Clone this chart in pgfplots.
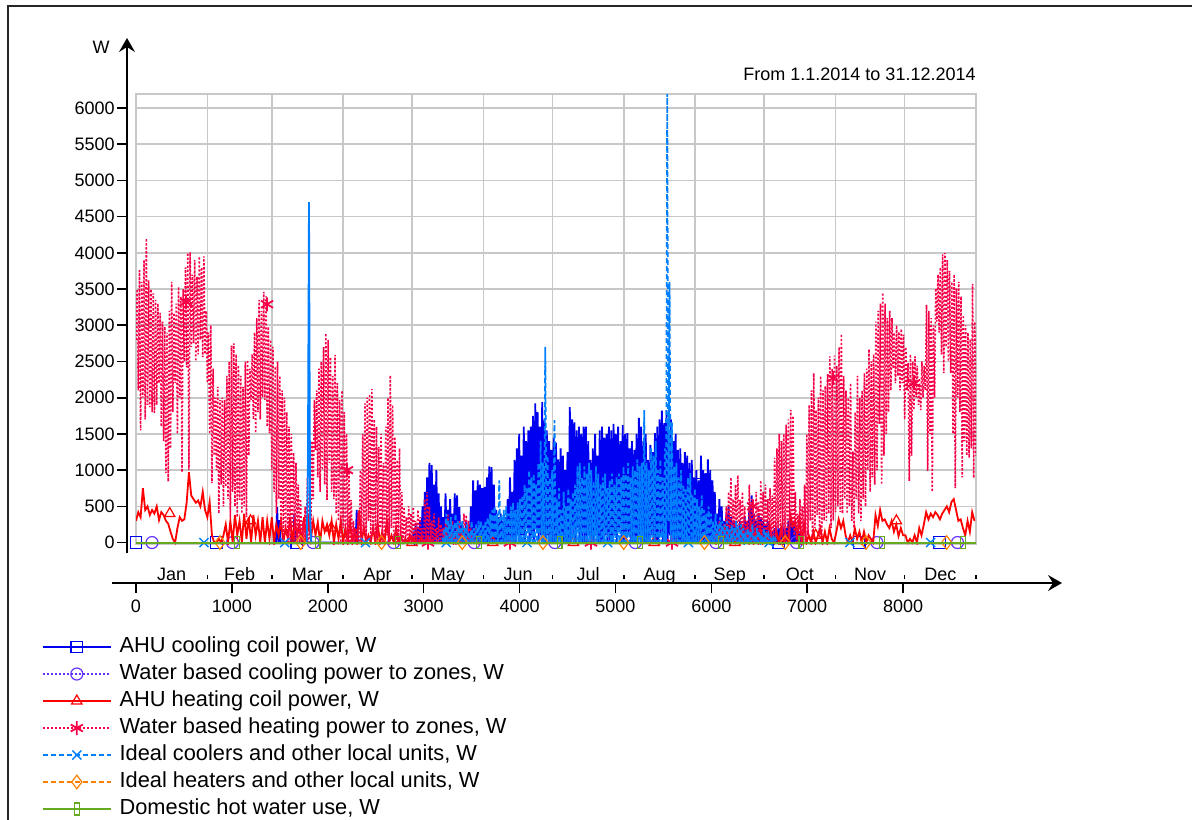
\documentclass[border=0pt]{standalone}
\usepackage{fontspec}
\setmainfont{Liberation Sans}
\usepackage{pgfplots}
\usepackage{pgfplotstable}
\pgfplotsset{compat=1.18}
\usetikzlibrary{arrows.meta}

\definecolor{cAC}{RGB}{0,0,240}
\definecolor{cWC}{RGB}{102,51,255}
\definecolor{cAH}{RGB}{255,0,0}
\definecolor{cWH}{RGB}{245,0,70}
\definecolor{cIC}{RGB}{0,128,255}
\definecolor{cIH}{RGB}{255,128,0}
\definecolor{cDHW}{RGB}{102,170,34}
\definecolor{gridc}{RGB}{200,200,200}

% Water based heating, Jan-May, 12 h steps from hour 0
\pgfplotstableread[row sep=\\,header=false]{
2800\\ 3500\\ 2100\\ 3760\\ 1550\\ 3600\\ 2000\\ 3900\\ 1700\\ 4200\\ 1900\\ 3620\\ 1870\\ 3500\\
1800\\ 3440\\ 1790\\ 3350\\ 1900\\ 3300\\ 2200\\ 3170\\ 1600\\ 3050\\ 1400\\ 2980\\ 960\\ 2900\\
840\\ 3200\\ 1300\\ 3600\\ 1800\\ 3170\\ 2200\\ 3300\\ 1500\\ 3530\\ 2000\\ 3400\\ 970\\ 3500\\
2500\\ 3800\\ 2420\\ 4000\\ 1000\\ 4010\\ 2700\\ 3700\\ 2750\\ 3900\\ 2500\\ 3670\\ 2600\\ 3950\\
2800\\ 3800\\ 2560\\ 3950\\ 2600\\ 3200\\ 2200\\ 2900\\ 1500\\ 3000\\ 820\\ 2400\\ 1200\\ 2000\\
1000\\ 2150\\ 400\\ 1970\\ 800\\ 2000\\ 500\\ 1970\\ 770\\ 2300\\ 600\\ 2500\\ 350\\ 2720\\
700\\ 2750\\ 500\\ 2600\\ 350\\ 2450\\ 590\\ 2300\\ 400\\ 2150\\ 500\\ 2500\\ 350\\ 2520\\
1200\\ 2400\\ 1970\\ 2600\\ 1700\\ 2900\\ 1510\\ 3100\\ 1800\\ 3350\\ 1700\\ 3200\\ 2000\\ 3460\\
1970\\ 3400\\ 1600\\ 2980\\ 1510\\ 2800\\ 1000\\ 2700\\ 700\\ 2430\\ 400\\ 2500\\ 600\\ 2300\\
200\\ 2100\\ 0\\ 2000\\ 100\\ 1800\\ 0\\ 1600\\ 0\\ 1500\\ 200\\ 1240\\ 0\\ 1100\\
0\\ 800\\ 0\\ 600\\ 0\\ 300\\ 0\\ 500\\ 0\\ 900\\ 0\\ 700\\ 200\\ 1400\\
600\\ 1970\\ 1280\\ 2100\\ 900\\ 2400\\ 700\\ 2500\\ 1000\\ 2700\\ 800\\ 2890\\ 590\\ 2800\\
1100\\ 2560\\ 700\\ 2300\\ 600\\ 2590\\ 400\\ 2200\\ 300\\ 1970\\ 0\\ 2100\\ 200\\ 1800\\
0\\ 1500\\ 0\\ 1040\\ 0\\ 590\\ 0\\ 300\\ 0\\ 200\\ 0\\ 400\\ 0\\ 1000\\
0\\ 1500\\ 130\\ 1920\\ 0\\ 2000\\ 300\\ 2050\\ 0\\ 2120\\ 100\\ 1700\\ 0\\ 1600\\
0\\ 1320\\ 200\\ 1500\\ 0\\ 1100\\ 0\\ 1600\\ 100\\ 2000\\ 0\\ 2310\\ 200\\ 1900\\
0\\ 1460\\ 0\\ 1140\\ 0\\ 1300\\ 0\\ 700\\ 0\\ 490\\ 0\\ 350\\ 0\\ 500\\
0\\ 400\\ 0\\ 490\\ 0\\ 300\\ 0\\ 450\\ 0\\ 350\\ 0\\ 200\\ 0\\ 600\\
0\\ 700\\ 0\\ 500\\ 0\\ 300\\ 0\\ 400\\ 0\\ 200\\ 0\\ 350\\ 0\\ 250\\
0\\ 200\\ 0\\ 300\\ 0\\ 400\\ 0\\ 150\\ 0\\ 300\\ 0\\ 100\\ 0\\ 250\\
0\\ 300\\ 0\\ 200\\ 0\\ 400\\ 0\\ 380\\ 0\\ 300\\ 0\\ 150\\ 0\\ 100\\
0\\ 200\\ 0\\ 100\\ 0\\ 50\\ 0\\ 0\\
}\pinkA

% Water based heating, Sep-Dec, 12 h steps from hour 6000
\pgfplotstableread[row sep=\\,header=false]{
0\\ 0\\ 0\\ 100\\ 0\\ 200\\ 0\\ 300\\ 0\\ 150\\ 0\\ 250\\ 0\\
500\\ 0\\ 700\\ 0\\ 900\\ 0\\ 600\\ 100\\ 800\\ 0\\ 930\\ 0\\ 590\\ 0\\ 700\\ 0\\ 500\\
0\\ 300\\ 0\\ 800\\ 0\\ 600\\ 0\\ 400\\ 0\\ 700\\ 0\\ 500\\ 0\\
860\\ 0\\ 700\\ 0\\ 800\\ 0\\ 600\\ 0\\ 750\\ 0\\ 650\\ 0\\
1170\\ 0\\ 1300\\ 200\\ 1500\\ 0\\ 1400\\ 100\\ 1500\\ 0\\
1630\\ 100\\ 1700\\ 0\\ 1830\\ 200\\ 1750\\ 100\\
700\\ 0\\ 400\\ 0\\ 600\\ 0\\ 500\\ 0\\ 800\\
0\\ 1500\\ 100\\ 1900\\ 300\\ 2100\\ 0\\ 2340\\ 200\\
1830\\ 380\\ 2000\\ 100\\ 2300\\ 0\\ 2100\\ 300\\
2160\\ 300\\ 2300\\ 400\\ 2570\\ 200\\ 2400\\ 300\\ 2580\\
420\\ 2440\\ 500\\ 2700\\ 420\\ 2880\\
400\\ 2300\\ 600\\ 2100\\ 400\\ 2000\\ 500\\ 2200\\ 300\\
1260\\ 200\\ 1800\\ 600\\ 2300\\ 400\\ 2000\\ 300\\ 2100\\ 600\\ 2340\\
500\\ 2400\\ 1000\\ 2670\\ 700\\ 2500\\ 900\\ 2600\\ 800\\
3050\\ 1000\\ 3200\\ 1640\\ 3300\\ 800\\ 3450\\ 1200\\ 3300\\ 1500\\ 3100\\ 1800\\ 3200\\
2100\\ 3100\\ 2400\\ 2900\\ 2200\\ 3000\\ 2300\\ 2910\\ 2100\\ 2950\\ 2200\\
2870\\ 1700\\ 2700\\ 2100\\ 2480\\ 850\\ 2600\\ 1200\\ 2500\\
1830\\ 2570\\ 2000\\ 2440\\ 1900\\ 2200\\ 1830\\ 2500\\ 2000\\ 2440\\
2100\\ 3280\\ 990\\ 3200\\ 1500\\ 3100\\ 700\\ 3000\\ 2000\\
3510\\ 3050\\ 3700\\ 2900\\ 3800\\ 2600\\ 3980\\ 2340\\ 4000\\ 2700\\ 3900\\ 2500\\
3750\\ 2340\\ 3600\\ 1500\\ 3700\\ 750\\ 3510\\ 2000\\ 3600\\ 1800\\ 3400\\ 900\\
3140\\ 1400\\ 3000\\ 1200\\ 2900\\ 1170\\ 2810\\ 1300\\ 3570\\ 890\\ 3050\\ 1200\\
}\pinkB

% AHU heating, Jan-May, 24 h steps from hour 0
\pgfplotstableread[row sep=\\,header=false]{
300\\ 420\\ 350\\ 750\\ 450\\ 500\\ 380\\
450\\ 400\\ 500\\ 310\\ 420\\ 380\\ 300\\
260\\ 150\\ 50\\ 0\\ 200\\ 350\\ 300\\
320\\ 550\\ 970\\ 650\\ 600\\ 550\\ 580\\
500\\ 700\\ 450\\ 350\\ 560\\ 100\\ 0\\
0\\ 50\\ 0\\ 100\\ 250\\ 0\\ 300\\
0\\ 380\\ 100\\ 300\\ 0\\ 400\\ 50\\
350\\ 0\\ 380\\ 100\\ 300\\ 0\\ 350\\
0\\ 300\\ 50\\ 350\\ 0\\ 250\\ 100\\
300\\ 0\\ 200\\ 50\\ 350\\ 0\\ 300\\
100\\ 250\\ 0\\ 350\\ 0\\ 300\\ 50\\
300\\ 100\\ 280\\ 0\\ 300\\ 150\\ 250\\
100\\ 300\\ 0\\ 250\\ 50\\ 300\\ 0\\
200\\ 0\\ 300\\ 0\\ 150\\ 0\\ 450\\
0\\ 210\\ 0\\ 100\\ 0\\ 200\\ 0\\
280\\ 0\\ 150\\ 0\\ 300\\ 0\\ 100\\
0\\ 200\\ 0\\ 100\\ 0\\ 50\\ 0\\
100\\ 0\\ 50\\ 0\\ 0\\ 80\\ 0\\
0\\
}\redA

% AHU heating, Sep-Dec, 24 h steps from hour 6200
\pgfplotstableread[row sep=\\,header=false]{
0\\ 50\\ 0\\ 150\\ 0\\ 200\\ 0\\ 100\\ 0\\ 240\\ 0\\ 150\\ 0\\
200\\ 0\\ 100\\ 0\\ 240\\ 50\\ 0\\ 150\\ 0\\ 200\\ 0\\ 100\\ 0\\
380\\ 230\\ 300\\ 100\\ 350\\ 0\\ 250\\ 0\\ 100\\
0\\ 150\\ 0\\ 100\\ 200\\ 0\\ 150\\ 0\\ 200\\ 50\\ 0\\ 150\\
320\\ 200\\ 300\\ 100\\ 0\\
100\\ 0\\ 200\\ 50\\ 150\\ 0\\
150\\ 0\\ 100\\ 50\\ 0\\
380\\ 230\\ 450\\ 300\\
320\\ 250\\ 200\\ 300\\ 150\\ 250\\ 90\\ 200\\ 100\\
100\\ 0\\ 50\\ 0\\ 100\\ 0\\
200\\ 100\\ 250\\
420\\ 320\\ 400\\ 350\\ 420\\ 380\\ 320\\ 400\\ 450\\
500\\ 420\\ 560\\ 600\\ 450\\ 300\\
320\\ 200\\ 100\\ 300\\ 150\\ 420\\
300\\
}\redB

% AHU cooling, 12 h steps from hour 2880
\pgfplotstableread[row sep=\\,header=false]{
0\\ 100\\ 0\\ 250\\ 0\\ 150\\ 0\\ 300\\ 0\\ 500\\ 0\\ 700\\ 0\\ 900\\ 0\\ 1100\\
0\\ 1070\\ 0\\ 800\\ 0\\ 1000\\ 0\\ 680\\ 0\\
500\\ 0\\ 350\\ 0\\ 680\\ 0\\ 450\\ 0\\ 600\\ 0\\ 400\\ 0\\ 680\\
0\\ 650\\ 0\\ 490\\
0\\ 270\\ 0\\ 200\\ 0\\ 300\\ 0\\ 250\\ 0\\ 500\\ 0\\ 860\\ 0\\
720\\ 0\\ 860\\ 0\\ 800\\ 0\\ 750\\ 0\\ 770\\
0\\ 900\\ 0\\ 1050\\ 0\\ 1040\\ 0\\ 800\\ 0\\
450\\ 0\\ 350\\ 0\\ 400\\ 0\\ 300\\ 0\\
350\\ 0\\ 600\\ 0\\ 900\\ 0\\ 700\\ 0\\ 1140\\
0\\ 1300\\ 100\\ 1500\\ 0\\ 1200\\ 100\\ 1600\\ 0\\ 1400\\ 200\\ 1550\\ 0\\
1600\\ 100\\ 1750\\ 0\\ 1920\\ 200\\ 1800\\ 0\\ 1600\\ 100\\ 1940\\ 0\\ 1700\\
0\\ 1550\\ 100\\ 1400\\ 0\\ 1280\\ 0\\ 1450\\ 0\\
1380\\ 0\\ 1150\\ 100\\ 1300\\ 0\\ 1200\\ 0\\ 1000\\ 0\\ 1250\\ 0\\ 1870\\
0\\ 1700\\ 100\\ 1660\\ 0\\ 1550\\ 200\\ 1600\\ 0\\ 1500\\ 0\\ 1600\\ 0\\
1600\\ 0\\ 1400\\ 100\\ 1140\\ 0\\ 1300\\ 0\\ 1500\\ 100\\ 1200\\ 0\\ 1550\\
0\\ 1600\\ 0\\ 1450\\ 100\\ 1500\\ 0\\ 1600\\ 0\\
1550\\ 0\\ 1640\\ 100\\ 1500\\ 0\\ 1600\\ 200\\ 1400\\ 0\\ 1620\\ 0\\ 1500\\
0\\ 1510\\ 100\\ 1300\\ 0\\ 1400\\ 0\\ 1280\\ 0\\
1500\\ 0\\ 1720\\ 100\\ 1600\\ 0\\ 1400\\ 0\\
1500\\ 0\\ 1140\\ 0\\ 1350\\ 100\\ 1250\\ 0\\ 1510\\
0\\ 1600\\ 0\\ 1700\\ 100\\ 1820\\ 0\\ 1650\\ 0\\
1830\\ 0\\ 1550\\ 100\\ 1700\\ 0\\ 1400\\ 0\\ 1500\\ 0\\ 1280\\ 0\\ 1300\\
0\\ 1100\\ 0\\ 1250\\ 0\\ 1200\\ 0\\ 1100\\
0\\ 1140\\ 0\\ 900\\ 0\\ 1000\\ 0\\ 860\\ 0\\
1200\\ 0\\ 1000\\ 0\\ 960\\ 0\\ 1150\\ 0\\ 1000\\ 0\\
860\\ 0\\ 700\\ 0\\ 400\\ 0\\ 600\\
0\\ 500\\ 0\\ 300\\ 0\\ 400\\ 0\\ 490\\ 0\\ 350\\ 0\\ 300\\ 0\\
300\\ 0\\ 200\\ 0\\ 300\\ 0\\ 250\\ 0\\ 350\\ 0\\ 300\\ 0\\ 500\\
0\\ 650\\ 0\\
400\\ 0\\ 300\\ 0\\ 400\\ 0\\ 350\\ 0\\ 300\\ 0\\ 250\\ 0\\ 300\\ 0\\ 200\\
0\\ 100\\ 0\\ 200\\ 0\\ 150\\ 0\\ 200\\ 0\\ 100\\ 0\\ 150\\ 0\\ 200\\ 0\\ 300\\ 0\\
350\\ 0\\ 300\\ 0\\ 250\\ 0\\ 200\\ 0\\ 100\\ 0\\ 50\\ 0\\
}\blueA

% Ideal coolers, 12 h steps from hour 3200
\pgfplotstableread[row sep=\\,header=false]{
0\\ 200\\ 0\\ 400\\ 0\\ 300\\ 0\\ 350\\ 0\\ 250\\ 0\\ 400\\ 0\\ 300\\ 0\\ 270\\
0\\ 300\\ 0\\ 200\\ 0\\ 250\\ 0\\ 150\\ 0\\ 300\\ 0\\ 200\\ 0\\ 250\\ 0\\ 300\\ 0\\
300\\ 0\\ 250\\ 0\\ 300\\ 0\\ 350\\ 0\\ 400\\
0\\ 450\\ 0\\ 500\\ 0\\ 400\\ 0\\ 860\\
0\\ 400\\ 0\\ 450\\ 0\\ 500\\ 0\\ 400\\ 0\\ 500\\ 0\\ 550\\ 0\\ 450\\ 0\\ 550\\ 0\\ 600\\
0\\ 650\\ 0\\ 800\\ 0\\ 750\\ 0\\ 1000\\ 0\\ 900\\ 0\\ 950\\ 0\\ 800\\ 0\\ 1100\\ 0\\
1400\\ 0\\ 1100\\ 0\\
2700\\
0\\ 1200\\ 0\\ 900\\ 0\\ 1000\\ 0\\ 1690\\
0\\ 600\\ 0\\ 750\\ 0\\ 450\\ 0\\ 700\\ 0\\ 500\\ 0\\ 750\\ 0\\ 600\\ 0\\ 700\\ 0\\ 800\\
0\\ 1050\\ 0\\ 1100\\ 0\\ 900\\ 0\\ 1050\\ 0\\ 950\\ 0\\ 1100\\ 0\\ 1000\\ 0\\ 850\\ 0\\ 1050\\ 0\\ 950\\ 0\\ 800\\
0\\ 900\\ 0\\ 950\\ 0\\ 750\\ 0\\ 850\\ 0\\ 950\\ 0\\ 800\\ 0\\ 900\\ 0\\ 950\\ 0\\ 900\\
0\\ 1050\\ 0\\ 950\\ 0\\ 1100\\ 0\\ 900\\ 0\\ 1050\\ 0\\ 1000\\ 0\\ 1150\\ 0\\ 1050\\ 0\\
1100\\ 0\\ 1830\\ 0\\ 1100\\ 0\\ 1000\\ 0\\ 1300\\ 0\\ 1200\\ 0\\ 1400\\
0\\ 1000\\ 0\\ 1150\\ 0\\ 900\\ 0\\ 1300\\ 0\\
6200\\ 300\\ 3600\\
0\\ 1660\\ 0\\ 1050\\ 0\\ 1100\\ 0\\ 900\\ 0\\ 1000\\ 0\\ 800\\ 0\\ 750\\ 0\\ 900\\ 0\\ 960\\
0\\ 650\\ 0\\ 750\\ 0\\ 600\\ 0\\ 500\\ 0\\ 650\\ 0\\ 450\\ 0\\ 400\\ 0\\ 500\\ 0\\ 400\\
0\\ 300\\ 0\\ 400\\ 0\\ 250\\ 0\\ 350\\ 0\\ 300\\ 0\\ 250\\ 0\\ 300\\ 0\\ 200\\ 0\\ 250\\
0\\ 200\\ 0\\ 300\\ 0\\ 150\\ 0\\ 250\\ 0\\ 200\\ 0\\ 100\\ 0\\ 200\\ 0\\ 150\\ 0\\ 250\\ 0\\ 100\\
0\\ 200\\ 0\\ 150\\ 0\\ 100\\ 0\\ 200\\ 0\\ 150\\ 0\\ 100\\ 0\\ 50\\ 0\\ 100\\ 0\\ 50\\ 0\\ 0\\
}\cyanA

\begin{document}
\begin{tikzpicture}
\useasboundingbox (-68pt,-137.5pt) rectangle (528pt,272pt);
\draw[line width=1pt, black!85] (-64pt,-150pt) -- (-64pt,269pt) -- (540pt,269pt);
\begin{axis}[
  scale only axis, width=420pt, height=225pt,
  xmin=0, xmax=8760, ymin=-20, ymax=6193,
  axis x line*=bottom, axis y line*=left,
  axis x line shift=19.5pt, axis y line shift=4.5pt,
  x axis line style={line width=0.8pt, -{Stealth[length=7pt,width=8pt,inset=2.5pt]}, shorten <=-12pt, shorten >=-43pt},
  y axis line style={line width=0.8pt, -{Stealth[length=7pt,width=8pt,inset=2.5pt]}, shorten <=-4.5pt, shorten >=-28pt},
  tick align=outside, major tick length=5pt, minor tick length=2pt,
  tick style={black, line width=0.8pt},
  minor x tick style={yshift=4pt},
  xtick={0,1000,...,8000}, ytick={0,500,...,6000},
  minor xtick={744,1416,2160,2880,3624,4344,5088,5832,6552,7296,8016,8760},
  xminorgrids=true, ymajorgrids=true, xmajorgrids=false,
  grid style={gridc, line width=0.8pt},
  extra x ticks={372,1080,1788,2520,3252,3984,4716,5460,6192,6924,7656,8388},
  extra x tick labels={Jan,Feb,Mar,Apr,May,Jun,Jul,Aug,Sep,Oct,Nov,Dec},
  extra x tick style={major tick length=0pt, grid=none, xticklabel style={anchor=base, yshift=1.5pt}},
  ticklabel style={font=\fontsize{9}{10}\selectfont},
  yticklabel style={inner sep=1pt},
  /pgf/number format/assume math mode=true,
  /pgf/number format/1000 sep={},
  clip mode=individual,
  legend style={at={(-0.1119,-0.1989)}, anchor=north west, draw=none, fill=none,
    inner sep=0pt, outer sep=0pt, row sep=0pt,
    font=\fontsize{10.9}{13}\selectfont,
    nodes={inner sep=0pt, text height=9.3pt, text depth=4.2pt},
    /tikz/every odd column/.append style={column sep=4pt}},
  legend cell align=left,
  legend image code/.code={\draw[mark repeat=2,mark phase=2] plot coordinates {(0pt,0pt) (17pt,0pt) (34pt,0pt)};},
]
\addlegendimage{cAC, line width=0.8pt, mark=square, mark size=2.9pt, mark options={solid, line width=0.6pt}}
\addlegendentry{AHU cooling coil power, W}
\addlegendimage{cWC, line width=0.8pt, dash pattern=on 1pt off 1pt, mark=o, mark size=3pt, mark options={solid, line width=0.6pt}}
\addlegendentry{Water based cooling power to zones, W}
\addlegendimage{cAH, line width=0.8pt, mark=triangle, mark size=3pt, mark options={solid, line width=0.6pt}}
\addlegendentry{AHU heating coil power, W}
\addlegendimage{cWH, line width=0.8pt, dash pattern=on 1pt off 1pt, mark=asterisk, mark size=3.5pt, mark options={solid, line width=0.9pt}}
\addlegendentry{Water based heating power to zones, W}
\addlegendimage{cIC, line width=0.8pt, dash pattern=on 2.5pt off 1.5pt, mark=x, mark size=3.2pt, mark options={solid, line width=0.7pt}}
\addlegendentry{Ideal coolers and other local units, W}
\addlegendimage{cIH, line width=0.8pt, dash pattern=on 2.5pt off 1.5pt, mark=diamond, mark size=3.4pt, mark options={solid, line width=0.6pt}}
\addlegendentry{Ideal heaters and other local units, W}
\addlegendimage{cDHW, line width=0.8pt, mark=square, mark size=3pt, mark options={solid, xscale=0.4, line width=0.6pt}}
\addlegendentry{Domestic hot water use, W}

\draw[gridc, line width=0.8pt] (rel axis cs:0,0) rectangle (rel axis cs:1,1);

% AHU cooling
\addplot[cAC, line width=0.9pt, forget plot] table[x expr=2880+\coordindex*12, y index=0] {\blueA};
\addplot[cAC, line width=0.9pt, forget plot] coordinates {(1460,0) (1472,490) (1484,0) (1496,310) (1508,0) (1640,0) (1652,400) (1664,0) (2290,0) (2302,450) (2314,0)};
\addplot[cAC, only marks, mark=square, mark size=2.9pt, mark options={line width=0.6pt}, forget plot] coordinates {(0,0) (838,0) (1676,0) (4190,900) (5028,1200) (5866,800) (6704,0) (7542,0) (8380,0)};
% Water cooling
\addplot[cWC, line width=0.9pt, dotted, forget plot] coordinates {(0,0) (8760,0)};
\addplot[cWC, only marks, mark=o, mark size=3pt, mark options={line width=0.6pt}, forget plot] coordinates {(167,0) (1007,0) (1847,0) (2687,0) (3527,0) (4367,0) (5207,0) (6047,0) (6887,0) (7727,0) (8567,0)};
% AHU heating
\addplot[cAH, line width=0.9pt, forget plot] table[x expr=\coordindex*24, y index=0] {\redA};
\addplot[cAH, line width=0.9pt, forget plot] table[x expr=6200+\coordindex*24, y index=0] {\redB};
\addplot[cAH, only marks, mark=triangle, mark size=3pt, mark options={line width=0.6pt}, forget plot] coordinates {(352,400) (1194,300) (2036,200) (2878,0) (3720,0) (4562,0) (5404,0) (6246,0) (7088,100) (7930,300)};
% Water based heating
\addplot[cWH, line width=0.8pt, dash pattern=on 1pt off 1pt, forget plot] table[x expr=\coordindex*12, y index=0] {\pinkA};
\addplot[cWH, line width=0.8pt, dash pattern=on 1pt off 1pt, forget plot] table[x expr=6000+\coordindex*12, y index=0] {\pinkB};
\addplot[cWH, only marks, mark=asterisk, mark size=3.5pt, mark options={line width=0.9pt}, forget plot] coordinates {(521,3320) (1366,3290) (2200,1000) (3045,0) (3900,0) (4745,0) (5590,0) (6435,500) (7269,2270) (8113,2200)};
% Ideal coolers
\addplot[cIC, line width=0.9pt, dash pattern=on 2.5pt off 1.5pt, forget plot] table[x expr=3200+\coordindex*12, y index=0] {\cyanA};
\addplot[cIC, line width=0.9pt, forget plot] coordinates {(1780,0) (1792,860) (1804,4700) (1816,300) (1828,0)};
\addplot[cIC, only marks, mark=x, mark size=3.2pt, mark options={line width=0.7pt}, forget plot] coordinates {(709,0) (1551,0) (2393,0) (3235,0) (4077,0) (4919,0) (5761,0) (6603,0) (7445,0) (8287,0)};
% Ideal heaters
\addplot[cIH, line width=0.9pt, dash pattern=on 2.5pt off 1.5pt, forget plot] coordinates {(0,0) (8760,0)};
\addplot[cIH, only marks, mark=diamond, mark size=3.4pt, mark options={line width=0.6pt}, forget plot] coordinates {(876,0) (1718,0) (2560,0) (3402,0) (4244,0) (5086,0) (5928,0) (6770,0) (7612,0) (8454,0)};
% Domestic hot water
\addplot[cDHW, line width=1pt, forget plot] coordinates {(0,0) (8760,0)};
\addplot[cDHW, only marks, mark=square, mark size=3pt, mark options={line width=0.6pt, xscale=0.4}, forget plot] coordinates {(1053,0) (1894,0) (2735,0) (3576,0) (4417,0) (5258,0) (6099,0) (6940,0) (7781,0) (8622,0)};

\node[anchor=base east, inner sep=0pt, font=\fontsize{9}{10}\selectfont, yshift=7pt] at (rel axis cs:1,1) {From 1.1.2014 to 31.12.2014};
\node[anchor=base east, inner sep=0pt, font=\fontsize{9}{10}\selectfont, xshift=-13pt, yshift=20.5pt] at (rel axis cs:0,1) {W};
\end{axis}
\end{tikzpicture}
\end{document}
